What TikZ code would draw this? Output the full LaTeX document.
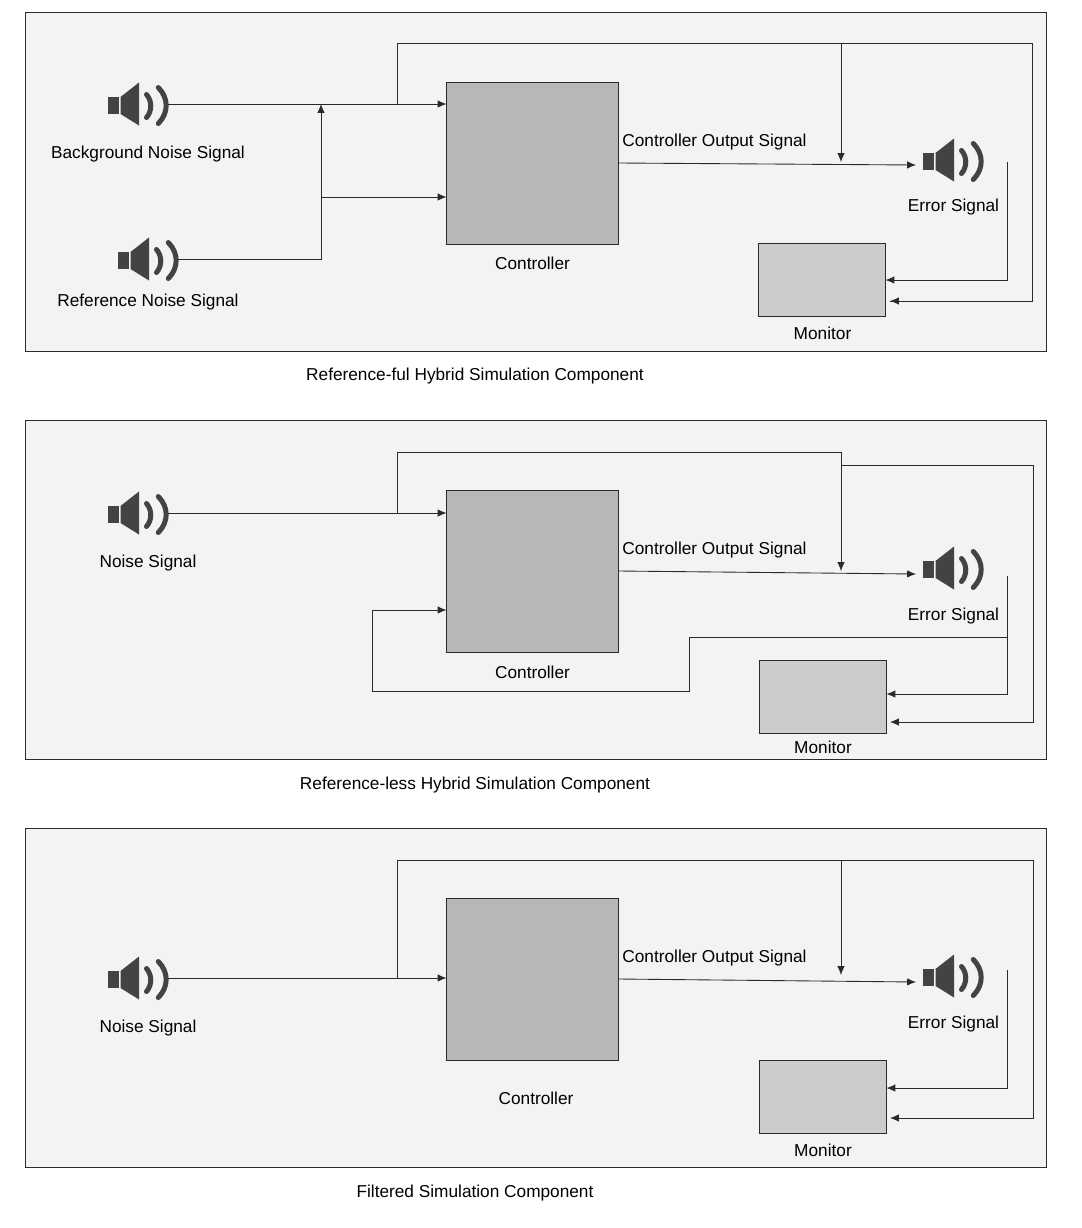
\documentclass[tikz,border=0pt]{standalone}
\usepackage{fontspec}
\setmainfont{Liberation Sans}
\usepackage{tikz}
\usetikzlibrary{arrows.meta, calc, positioning}
\definecolor{panelgrau}{HTML}{F3F3F3}
\definecolor{ctrlgrau}{HTML}{B7B7B7}
\definecolor{mongrau}{HTML}{CCCCCC}
\definecolor{spkgrau}{HTML}{434343}
\definecolor{linie}{HTML}{2A2A2A}

\begin{document}
\begin{tikzpicture}[
        x=0.02cm, y=-0.02cm,
        panel/.style={draw=linie, line width=0.45pt, fill=panelgrau},
        ctrlbox/.style={draw=linie, line width=0.5pt, fill=ctrlgrau, inner sep=0pt, outer sep=0pt,
                        minimum width=3.44cm, minimum height=3.24cm},
        monbox/.style={draw=linie, line width=0.5pt, fill=mongrau, inner sep=0pt, outer sep=0pt,
                        minimum width=2.54cm, minimum height=1.46cm},
        lab/.style={font=\fontsize{9.82}{12}\selectfont, text=black, inner sep=0pt},
        arr/.style={-{Latex[length=5pt, width=4.2pt]}, line width=0.5pt, linie},
        wire/.style={line width=0.5pt, linie},
        pics/speaker/.style={code={
          \fill[spkgrau] (0,-7) rectangle (10.5,10);
          \fill[spkgrau] (12.5,-7) -- (31,-21.5) -- (31,21.5) -- (12.5,10) -- cycle;
          \draw[spkgrau, line width=2.85pt, line cap=round]
            (38.5,-9.5) .. controls (44.2,-3) and (44.2,7) .. (38.5,13.5);
          \draw[spkgrau, line width=2.85pt, line cap=round]
            (50.3,-16.5) .. controls (60.8,-6) and (60.8,9) .. (50.3,19.5);
          \coordinate (-out) at (60,0);
        }}
      ]
      \useasboundingbox (0,0) rectangle (1082,1228);

      % Panels
      \foreach \n/\y in {panA/12, panB/420, panC/828} {
        \draw[panel] (25,\y) rectangle ++(1021,339);
        \coordinate (\n) at (25,\y);
      }

      % Panel 1
      \pic (spkA) at (108,104) {speaker};
      \pic (spkB) at (118,259) {speaker};
      \pic (spkC) at (923,160) {speaker};
      \node[ctrlbox] (ctrlA) at (532.5,163) {};
      \node[monbox] (monA) at (822,279.5) {};
      \node[lab] (lbgA) at (148,154) {Background Noise Signal};
      \node[lab] (lrefA) at (148,302) {Reference Noise Signal};
      \node[lab] (lctrlA) at (532.5,263) {Controller};
      \node[lab] (loutA) at (714.5,142) {Controller Output Signal};
      \node[lab] (lerrA) at (953.5,207) {Error Signal};
      \node[lab] (lmonA) at (822.5,333) {Monitor};
      \node[lab] (capA) at (475,376) {Reference-ful Hybrid Simulation Component};

      \coordinate (mixA) at (321,104);
      \coordinate (tapA) at (397,104);
      \coordinate (topA) at (841,43);
      \coordinate (midA) at (321,197);
      \coordinate (hitA) at (841,162);
      \coordinate (spkCin) at (916,165);
      \coordinate (errA) at (1007,162);
      \coordinate (retA) at (890,301);
      \draw[arr] (spkA-out) -- (ctrlA.west |- spkA-out);
      \draw[arr] (spkB-out) -| (mixA);
      \draw[arr] (midA) -- (ctrlA.west |- midA);
      \draw[wire] (tapA) |- (1032,43) |- (retA);
      \draw[arr] (1032,301) -- (retA);
      \draw[arr] (topA) -- (hitA);
      \draw[arr] (ctrlA.east) -- (spkCin);
      \draw[arr] (errA) |- (monA.east |- 0,280);

      % Panel 2
      \pic (spkD) at (108,513) {speaker};
      \pic (spkE) at (923,568) {speaker};
      \node[ctrlbox] (ctrlB) at (532.5,571) {};
      \node[monbox] (monB) at (823,696.5) {};
      \node[lab] (lnoiB) at (148,563) {Noise Signal};
      \node[lab] (lctrlB) at (532.5,672) {Controller};
      \node[lab] (loutB) at (714.5,550) {Controller Output Signal};
      \node[lab] (lerrB) at (953.5,616) {Error Signal};
      \node[lab] (lmonB) at (823,747) {Monitor};
      \node[lab] (capB) at (475,785) {Reference-less Hybrid Simulation Component};

      \coordinate (tapB) at (397,513);
      \coordinate (topB) at (841,452);
      \coordinate (sideB) at (841,465);
      \coordinate (hitB) at (841,571);
      \coordinate (spkEin) at (916,574);
      \coordinate (errB) at (1007,576);
      \coordinate (fbB) at (1007,637);
      \coordinate (stepB) at (689,691);
      \coordinate (backB) at (372,691);
      \coordinate (retB) at (890,722);
      \draw[arr] (spkD-out) -- (ctrlB.west |- spkD-out);
      \draw[wire] (tapB) |- (topB);
      \draw[arr] (topB) -- (hitB);
      \draw[arr] (sideB) -| (1033,722) -- (retB);
      \draw[arr] (ctrlB.east) -- (spkEin);
      \draw[arr] (errB) |- (monB.east |- 0,694);
      \draw[wire] (fbB) -| (stepB) -- (backB);
      \draw[arr] (backB) |- (ctrlB.west |- 0,610);

      % Panel 3
      \pic (spkF) at (108,978) {speaker};
      \pic (spkG) at (923,976) {speaker};
      \node[ctrlbox] (ctrlC) at (532.5,979) {};
      \node[monbox] (monC) at (823,1096.5) {};
      \node[lab] (lnoiC) at (148,1028) {Noise Signal};
      \node[lab] (lctrlC) at (536,1098) {Controller};
      \node[lab] (loutC) at (714.5,958) {Controller Output Signal};
      \node[lab] (lerrC) at (953.5,1024) {Error Signal};
      \node[lab] (lmonC) at (823,1150) {Monitor};
      \node[lab] (capC) at (475,1193) {Filtered Simulation Component};

      \coordinate (tapC) at (397,978);
      \coordinate (topC) at (841,860);
      \coordinate (hitC) at (841,975);
      \coordinate (spkGin) at (916,982);
      \coordinate (errC) at (1007,970);
      \coordinate (retC) at (890,1118);
      \draw[arr] (spkF-out) -- (ctrlC.west |- spkF-out);
      \draw[arr] (tapC) |- (1033,860) -- (1033,1118) -- (retC);
      \draw[arr] (topC) -- (hitC);
      \draw[arr] (ctrlC.east) -- (spkGin);
      \draw[arr] (errC) |- (monC.east |- 0,1088);
    \end{tikzpicture}
\end{document}
